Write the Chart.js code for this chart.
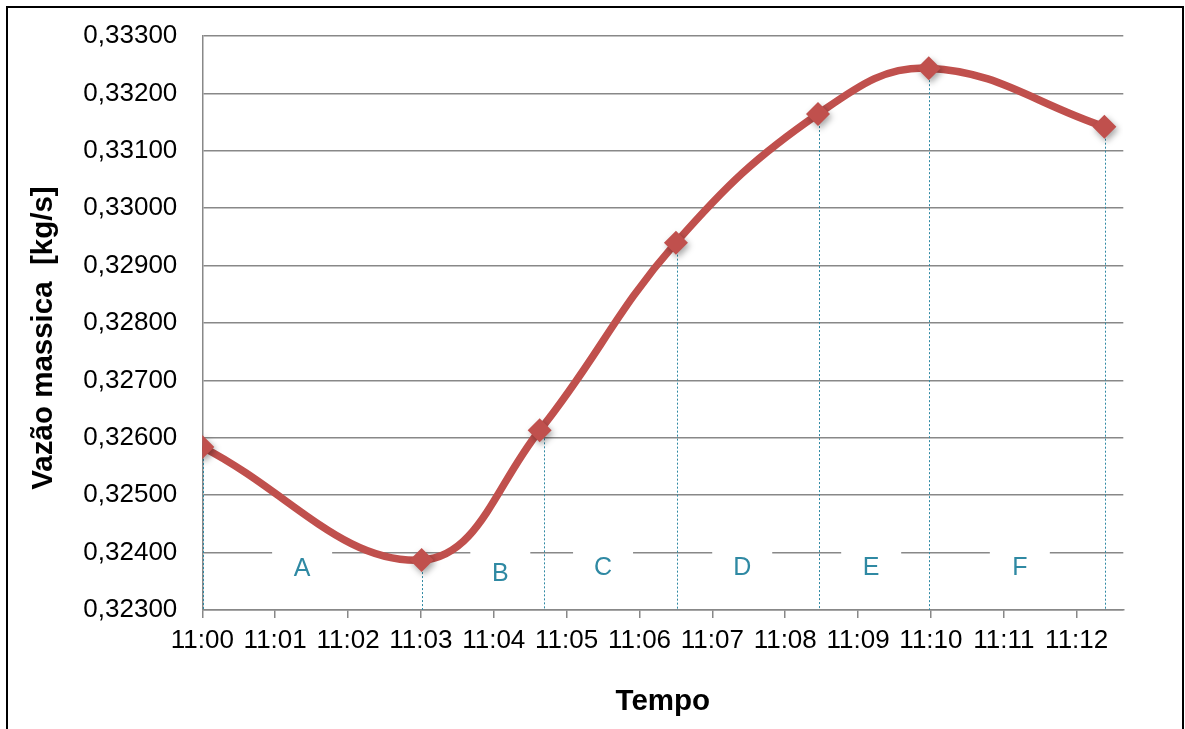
<!DOCTYPE html>
<html>
<head>
<meta charset="utf-8">
<script src="https://cdn.jsdelivr.net/npm/chart.js@4.4.1/dist/chart.umd.min.js"></script>
<style>
  html, body { margin: 0; padding: 0; background: #fff; overflow: hidden; }
  #wrap { position: relative; width: 1185px; height: 729px; }
  #frame { position: absolute; left: 6px; top: 6px; width: 1174px; height: 760px;
           border: 2px solid #000; border-bottom: none; pointer-events: none; }
  canvas { position: absolute; left: 0; top: 0; }
</style>
</head>
<body>
<div id="wrap">
  <canvas id="chart" width="1185" height="729"></canvas>
  <div id="frame"></div>
</div>
<script>
// Sampling instants in minutes after 11:00 and the measured mass flow [kg/s]
const sampleMinutes = [0, 3.01, 4.63, 6.50, 8.45, 9.97, 12.38];
const massFlow = [0.32584, 0.32387, 0.32613, 0.32940, 0.33164, 0.33244, 0.33142];

// Dotted drop lines marking the stage boundaries (minutes after 11:00)
const dropLineMinutes = [0.01, 3.02, 4.69, 6.51, 8.47, 9.97, 12.39];

// Axis tick labels
const xTickLabels = ['11:00', '11:01', '11:02', '11:03', '11:04', '11:05', '11:06',
                     '11:07', '11:08', '11:09', '11:10', '11:11', '11:12'];
const yTickLabels = ['0,32300', '0,32400', '0,32500', '0,32600', '0,32700', '0,32800',
                     '0,32900', '0,33000', '0,33100', '0,33200', '0,33300'];

// Stage names written between the drop lines
const stageNames = ['A', 'B', 'C', 'D', 'E', 'F'];
const stageMinutes = [1.37, 4.09, 5.50, 7.41, 9.18, 11.22];
const stageLevels = [0.323714, 0.323627, 0.323732, 0.323732, 0.323732, 0.323732];

const FONT = "'Liberation Sans', Arial, sans-serif";
const GRID = '#888888';
const TEAL = '#2f89a3';
const RED = '#c0504d';

const points = sampleMinutes.map((m, i) => ({ x: m, y: massFlow[i] }));

// Stage labels sit in small white boxes that interrupt the 0,32400 grid line
const stageLabels = {
  id: 'stageLabels',
  beforeDatasetsDraw(chart) {
    const { ctx, scales: { x, y } } = chart;
    ctx.save();
    stageNames.forEach((name, i) => {
      const px = x.getPixelForValue(stageMinutes[i]);
      const py = y.getPixelForValue(stageLevels[i]);
      ctx.fillStyle = '#fff';
      ctx.fillRect(px - 30, py - 24, 60, 48);
      ctx.fillStyle = TEAL;
      ctx.font = '25px ' + FONT;
      ctx.textAlign = 'center';
      ctx.textBaseline = 'middle';
      ctx.fillText(name, px, py);
    });
    ctx.restore();
  }
};

// Vertical dotted lines from each sample down to the time axis
const dropLines = {
  id: 'dropLines',
  beforeDatasetsDraw(chart) {
    const { ctx, chartArea, scales: { x, y } } = chart;
    ctx.save();
    ctx.strokeStyle = TEAL;
    ctx.lineWidth = 1;
    ctx.setLineDash([2, 2]);
    dropLineMinutes.forEach((m, i) => {
      const px = Math.round(x.getPixelForValue(m)) + 0.5;
      ctx.beginPath();
      ctx.moveTo(px, y.getPixelForValue(massFlow[i]));
      ctx.lineTo(px, chartArea.bottom);
      ctx.stroke();
    });
    ctx.restore();
  }
};

// Soft shadow under the diamond markers
const markerShadow = {
  id: 'markerShadow',
  beforeDatasetDraw(chart, args) {
    if (args.index !== 0) return;
    const ctx = chart.ctx;
    ctx.save();
    ctx.shadowColor = 'rgba(0,0,0,0.35)';
    ctx.shadowBlur = 6;
    ctx.shadowOffsetX = 2;
    ctx.shadowOffsetY = 3;
  },
  afterDatasetDraw(chart, args) {
    if (args.index !== 0) return;
    chart.ctx.restore();
  }
};

// Rotated title of the value axis
const valueTitle = {
  id: 'valueTitle',
  afterDraw(chart) {
    const ctx = chart.ctx;
    ctx.save();
    ctx.translate(44, 338);
    ctx.rotate(-Math.PI / 2);
    ctx.font = 'bold 29.5px ' + FONT;
    ctx.fillStyle = '#000';
    ctx.textAlign = 'center';
    ctx.textBaseline = 'middle';
    ctx.fillText('Vazão massica  [kg/s]', 0, 0);
    ctx.restore();
  }
};

new Chart(document.getElementById('chart'), {
  type: 'line',
  data: {
    datasets: [
      {
        // markers
        data: points,
        showLine: false,
        pointStyle: 'rectRot',
        pointRadius: 12,
        pointHoverRadius: 12,
        pointBackgroundColor: RED,
        pointBorderColor: RED,
        pointBorderWidth: 0
      },
      {
        // smoothed curve
        data: points,
        borderColor: RED,
        borderWidth: 7.5,
        tension: 0.4,
        pointRadius: 0,
        fill: false
      }
    ]
  },
  plugins: [stageLabels, dropLines, markerShadow, valueTitle],
  options: {
    responsive: false,
    animation: false,
    events: [],
    layout: { padding: { left: 8, top: 36, right: 61.7, bottom: 0 } },
    plugins: { legend: { display: false }, tooltip: { enabled: false } },
    scales: {
      x: {
        type: 'linear',
        position: 'bottom',
        min: 0,
        max: 12.64,
        afterFit(scale) { scale.height = 119; },
        grid: { drawOnChartArea: false, drawTicks: true, tickLength: 8, color: GRID, lineWidth: 1.5 },
        border: { color: GRID, width: 1.5 },
        ticks: {
          stepSize: 1,
          includeBounds: false,
          autoSkip: false,
          maxRotation: 0,
          padding: 7,
          color: '#000',
          font: { family: FONT, size: 26 },
          callback: (v) => xTickLabels[Math.round(v)]
        },
        title: {
          display: true,
          text: 'Tempo',
          color: '#000',
          font: { family: FONT, size: 29.5, weight: 'bold' },
          padding: { top: 0, bottom: 9 }
        }
      },
      y: {
        type: 'linear',
        min: 0.323,
        max: 0.333,
        afterFit(scale) {
          scale.width = 194.3;
          // keep only the half label height as vertical overhang
          scale.paddingTop = 16;
          scale.paddingBottom = 16;
        },
        grid: { drawTicks: false, color: GRID, lineWidth: 1.5 },
        border: { color: GRID, width: 1.5 },
        ticks: {
          stepSize: 0.001,
          padding: 25,
          color: '#000',
          font: { family: FONT, size: 26 },
          callback: (v, i) => yTickLabels[i]
        }
      }
    }
  }
});
</script>
</body>
</html>
